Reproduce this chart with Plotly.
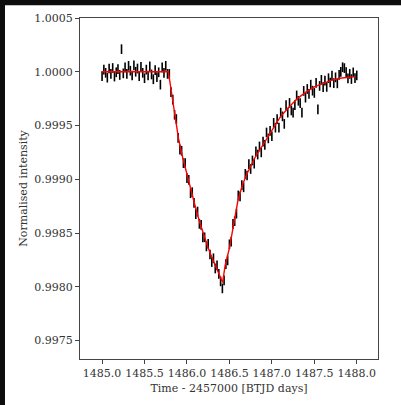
import plotly.graph_objects as go

# Observation times (BTJD - 2457000), 30-min cadence
time = [
    1485.000, 1485.021, 1485.042, 1485.062, 1485.083, 1485.104, 1485.125, 1485.146, 1485.167, 1485.187,
    1485.208, 1485.229, 1485.250, 1485.271, 1485.292, 1485.312, 1485.333, 1485.354, 1485.375, 1485.396,
    1485.417, 1485.437, 1485.458, 1485.479, 1485.500, 1485.521, 1485.542, 1485.562, 1485.583, 1485.604,
    1485.625, 1485.646, 1485.667, 1485.687, 1485.708, 1485.729, 1485.750, 1485.771, 1485.792, 1485.812,
    1485.833, 1485.854, 1485.875, 1485.896, 1485.917, 1485.937, 1485.958, 1485.979, 1486.000, 1486.021,
    1486.042, 1486.062, 1486.083, 1486.104, 1486.125, 1486.146, 1486.167, 1486.187, 1486.208, 1486.229,
    1486.250, 1486.271, 1486.292, 1486.312, 1486.333, 1486.354, 1486.375, 1486.396, 1486.417, 1486.437,
    1486.458, 1486.479, 1486.500, 1486.521, 1486.542, 1486.562, 1486.583, 1486.604, 1486.625, 1486.646,
    1486.667, 1486.687, 1486.708, 1486.729, 1486.750, 1486.771, 1486.792, 1486.812, 1486.833, 1486.854,
    1486.875, 1486.896, 1486.917, 1486.937, 1486.958, 1486.979, 1487.000, 1487.021, 1487.042, 1487.062,
    1487.083, 1487.104, 1487.125, 1487.146, 1487.167, 1487.187, 1487.208, 1487.229, 1487.250, 1487.271,
    1487.292, 1487.312, 1487.333, 1487.354, 1487.375, 1487.396, 1487.417, 1487.437, 1487.458, 1487.479,
    1487.500, 1487.521, 1487.542, 1487.562, 1487.583, 1487.604, 1487.625, 1487.646, 1487.667, 1487.687,
    1487.708, 1487.729, 1487.750, 1487.771, 1487.792, 1487.812, 1487.833, 1487.854, 1487.875, 1487.896,
    1487.917, 1487.937, 1487.958, 1487.979, 1488.000,
]

# Normalised flux of each observation
flux = [
    0.99996, 1.00002, 0.99999, 0.999945, 1.00003, 0.99998, 1.000035, 0.999955, 0.999995, 1.000025,
    0.99997, 1.00021, 0.999985, 1.00004, 0.99998, 1.000055, 1.00001, 0.999965, 1.00006, 1.00000,
    1.00003, 0.99996, 1.000045, 0.99999, 0.99994, 1.00002, 0.999965, 1.00005, 0.999975, 0.99993,
    1.000015, 0.99995, 0.999995, 0.99988, 1.00004, 0.99999, 1.000055, 0.99998, 0.99998, 0.99981,
    0.99974, 0.99960, 0.99956, 0.999385, 0.999275, 0.999265, 0.99915, 0.99915, 0.99901, 0.998995,
    0.99887, 0.99888, 0.99878, 0.998675, 0.99870, 0.998585, 0.998575, 0.99846, 0.99846, 0.998375,
    0.99840, 0.99830, 0.99823, 0.998265, 0.99817, 0.99820, 0.99812, 0.99805, 0.997985, 0.99806,
    0.99821, 0.998245, 0.998395, 0.99842, 0.998585, 0.99861, 0.99868, 0.99885, 0.99884, 0.998945,
    0.998925, 0.99905, 0.999035, 0.99914, 0.999095, 0.999175, 0.999145, 0.99926, 0.99923, 0.999305,
    0.99925, 0.99935, 0.99932, 0.999435, 0.99938, 0.99945, 0.99940, 0.999525, 0.99948, 0.99956,
    0.99948, 0.99962, 0.999585, 0.999515, 0.99969, 0.99962, 0.99971, 0.99964, 0.99962, 0.99969,
    0.99978, 0.99973, 0.999708, 0.99962, 0.999822, 0.999759, 0.99984, 0.999795, 0.99988, 0.999824,
    0.999803, 0.999897, 0.99965, 0.999868, 0.999925, 0.999857, 0.999918, 0.999859, 0.99994, 0.99990,
    0.999965, 0.999894, 0.999948, 0.999892, 0.999971, 0.999999, 1.000042, 1.000034, 0.999996, 0.999938,
    0.99998, 0.999932, 0.999994, 0.99994, 0.999966,
]

flux_err = 0.000045

# Fitted model (red line)
model_time = [1485.00, 1485.78, 1485.80, 1485.85, 1485.90, 1485.95, 1486.00, 1486.05, 1486.10,
              1486.15, 1486.20, 1486.25, 1486.30, 1486.35, 1486.40, 1486.42, 1486.45, 1486.50,
              1486.55, 1486.60, 1486.65, 1486.70, 1486.80, 1486.90, 1487.00, 1487.10, 1487.20,
              1487.30, 1487.40, 1487.50, 1487.60, 1487.70, 1487.80, 1487.90, 1487.98]
model_flux = [1.00000, 1.00000, 0.99990, 0.99965, 0.99938, 0.99920, 0.99904, 0.99889, 0.99874,
              0.99860, 0.99847, 0.99836, 0.99826, 0.99817, 0.99808, 0.99804, 0.99820, 0.99836,
              0.99858, 0.99880, 0.99894, 0.99904, 0.99920, 0.99933, 0.99946, 0.99958, 0.99967,
              0.99975, 0.99981, 0.99986, 0.99989, 0.99992, 0.99994, 0.99995, 0.999955]

x_ticks = [1485.0, 1485.5, 1486.0, 1486.5, 1487.0, 1487.5, 1488.0]
y_ticks = [0.9975, 0.9980, 0.9985, 0.9990, 0.9995, 1.0000, 1.0005]

FONT = "DejaVu Serif"

fig = go.Figure()
fig.add_trace(go.Scatter(
    x=time, y=flux, mode="markers",
    marker=dict(size=0, color="black", opacity=0),
    error_y=dict(type="constant", value=flux_err, color="black", thickness=1.6, width=0),
    showlegend=False, hoverinfo="skip",
))
fig.add_trace(go.Scatter(
    x=model_time, y=model_flux, mode="lines",
    line=dict(color="#ff0000", width=1.4),
    showlegend=False, hoverinfo="skip",
))

axis_common = dict(
    showline=True, linecolor="#444444", linewidth=1, mirror=True,
    ticks="outside", ticklen=4, tickcolor="#444444", tickwidth=1,
    showgrid=False, zeroline=False,
    tickfont=dict(family=FONT, size=11, color="#333333"),
)

fig.update_xaxes(
    range=[1484.74, 1488.25], tickvals=x_ticks,
    ticktext=[f"{v:.1f}" for v in x_ticks],
    title=dict(text="Time - 2457000 [BTJD days]", font=dict(family=FONT, size=11, color="#333333"), standoff=5),
    **axis_common,
)
fig.update_yaxes(
    range=[0.997328, 1.0005], tickvals=y_ticks,
    ticktext=[f"{v:.4f}" for v in y_ticks],
    title=dict(text="Normalised intensity", font=dict(family=FONT, size=11, color="#333333"), standoff=4),
    **axis_common,
)

fig.add_shape(
    type="rect", xref="paper", yref="paper",
    x0=-0.2517, x1=1.3, y0=-0.3, y1=1.0371,
    fillcolor="white", line=dict(width=0), layer="below",
)

fig.update_layout(
    width=401, height=405,
    margin=dict(l=80, r=23, t=15, b=40),
    paper_bgcolor="#0d0d0d", plot_bgcolor="white",
    font=dict(family=FONT),
)

fig.write_html(
    "out.html",
    config={"displayModeBar": False},
    post_script="document.body.style.margin='0px';document.body.style.overflow='hidden';",
)
